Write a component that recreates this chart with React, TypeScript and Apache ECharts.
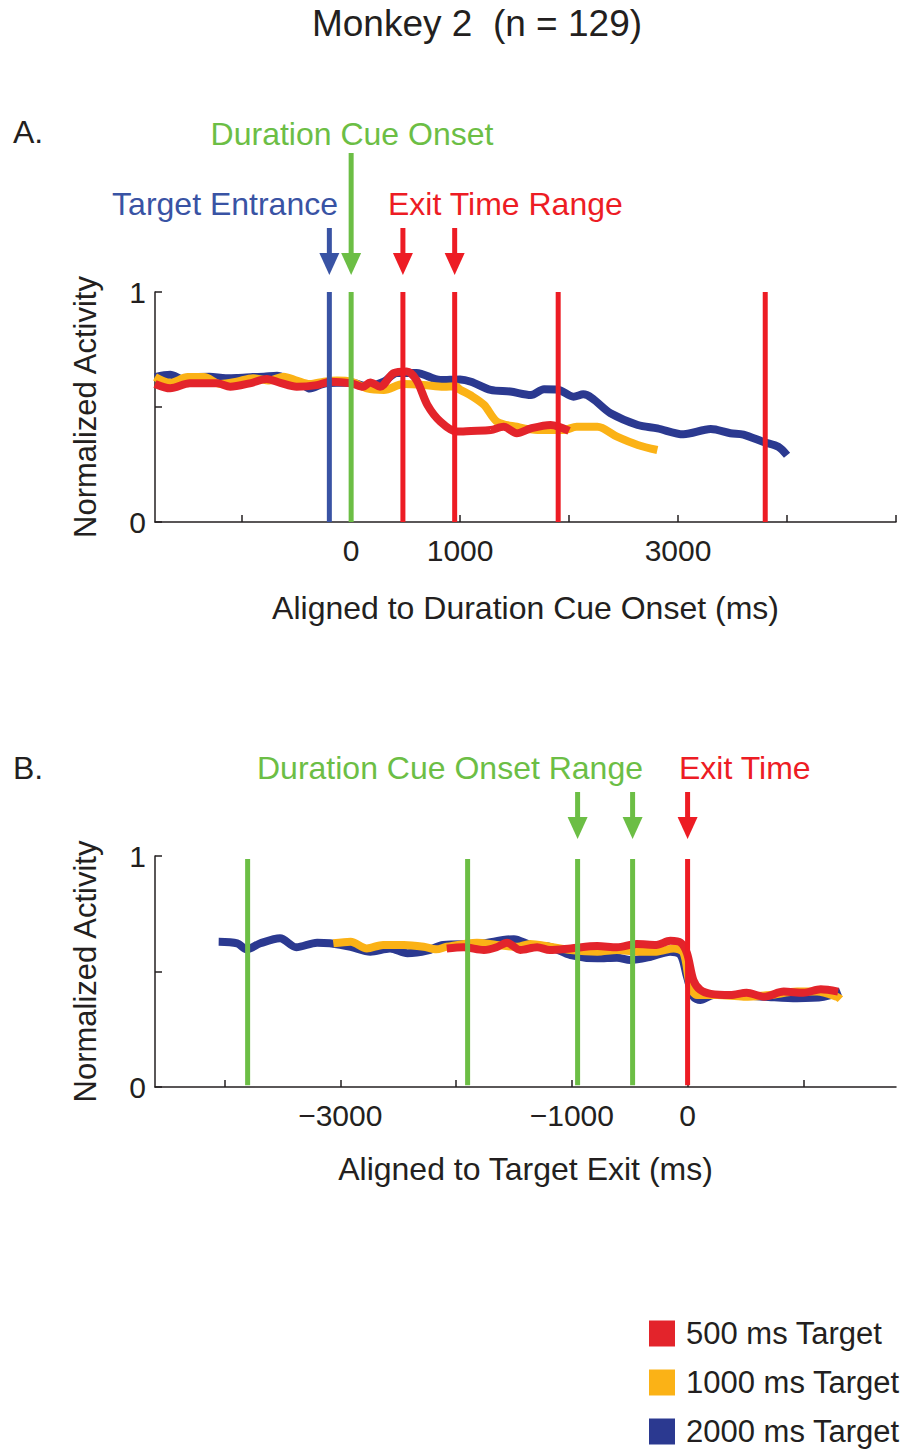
import React, { useEffect, useRef } from "react";
import * as echarts from "echarts";

// ---------- data ----------
// Panel A: aligned to duration cue onset (ms)
const tA_500 = [-1800, -1660, -1480, -1230, -1110, -930, -775, -650, -500, -315, -190, 0, 110, 175, 265, 390, 510, 600, 700, 820, 970, 1100, 1280, 1400, 1520, 1650, 1830, 2000];
const vA_500 = [0.6, 0.581, 0.603, 0.603, 0.588, 0.603, 0.622, 0.605, 0.588, 0.595, 0.61, 0.603, 0.588, 0.607, 0.588, 0.647, 0.654, 0.617, 0.509, 0.436, 0.393, 0.396, 0.4, 0.414, 0.386, 0.407, 0.422, 0.396];

const tA_1000 = [-1800, -1660, -1500, -1350, -1200, -1050, -900, -750, -620, -500, -380, -250, -130, 0, 145, 300, 480, 665, 850, 960, 1000, 1100, 1220, 1340, 1520, 1710, 1950, 2070, 2260, 2440, 2630, 2810];
const vA_1000 = [0.63, 0.605, 0.63, 0.63, 0.6, 0.61, 0.625, 0.615, 0.632, 0.615, 0.6, 0.61, 0.615, 0.61, 0.581, 0.574, 0.6, 0.596, 0.588, 0.59, 0.575, 0.55, 0.509, 0.436, 0.414, 0.4, 0.4, 0.414, 0.414, 0.371, 0.335, 0.313];

const tA_2000 = [-1800, -1660, -1540, -1400, -1300, -1150, -1050, -900, -800, -680, -560, -450, -380, -260, -130, 0, 150, 300, 420, 600, 820, 1000, 1100, 1280, 1460, 1650, 1770, 1900, 2040, 2130, 2380, 2630, 2810, 3050, 3300, 3480, 3600, 3790, 3920, 4000];
const vA_2000 = [0.63, 0.64, 0.62, 0.63, 0.632, 0.625, 0.626, 0.63, 0.632, 0.636, 0.617, 0.6, 0.58, 0.6, 0.605, 0.605, 0.59, 0.61, 0.648, 0.648, 0.617, 0.62, 0.61, 0.574, 0.567, 0.552, 0.577, 0.575, 0.545, 0.555, 0.473, 0.422, 0.407, 0.381, 0.404, 0.386, 0.38, 0.347, 0.327, 0.29];

// Panel B: aligned to target exit (ms)
const tB_500 = [-2080, -1935, -1760, -1650, -1560, -1445, -1300, -1190, -1010, -780, -610, -440, -270, -150, -60, -5, 50, 110, 200, 370, 510, 660, 830, 1000, 1150, 1300];
const vB_500 = [0.6, 0.605, 0.593, 0.605, 0.625, 0.593, 0.605, 0.593, 0.6, 0.61, 0.605, 0.619, 0.615, 0.633, 0.625, 0.579, 0.463, 0.42, 0.403, 0.398, 0.408, 0.391, 0.413, 0.408, 0.423, 0.413];

const tB_1000 = [-3060, -2910, -2770, -2630, -2450, -2280, -2170, -2080, -1820, -1650, -1470, -1360, -1190, -1010, -780, -610, -440, -270, -120, -35, 23, 81, 254, 484, 714, 945, 1118, 1290, 1320];
const vB_1000 = [0.622, 0.629, 0.6, 0.615, 0.615, 0.607, 0.596, 0.607, 0.625, 0.615, 0.607, 0.619, 0.607, 0.593, 0.586, 0.593, 0.586, 0.586, 0.6, 0.58, 0.434, 0.398, 0.398, 0.391, 0.398, 0.413, 0.413, 0.391, 0.38];

const tB_2000 = [-4050, -3890, -3810, -3690, -3520, -3380, -3200, -3090, -2910, -2740, -2570, -2420, -2250, -2110, -1800, -1500, -1360, -1190, -1010, -780, -610, -495, -320, -150, -60, -5, 50, 110, 225, 370, 660, 945, 1175, 1320];
const vB_2000 = [0.629, 0.622, 0.596, 0.622, 0.644, 0.605, 0.625, 0.622, 0.607, 0.586, 0.6, 0.579, 0.59, 0.615, 0.62, 0.64, 0.615, 0.607, 0.571, 0.557, 0.56, 0.55, 0.564, 0.586, 0.571, 0.477, 0.391, 0.377, 0.398, 0.398, 0.391, 0.384, 0.39, 0.413];

// Event markers (ms)
const A_targetEntrance = -200;
const A_cueOnset = 0;
const A_exitRange = [475, 950, 1900, 3800];
const A_exitArrows = [475, 950];
const B_cueOnsetRange = [-3800, -1900, -950, -475];
const B_cueArrows = [-950, -475];
const B_exit = 0;

// Axis ticks / labels
const A_ticks = [-1000, 0, 1000, 2000, 3000, 4000, 5000];
const A_labels = [0, 1000, 3000];
const B_ticks = [-4000, -3000, -2000, -1000, 0, 1000];
const B_labels = [-3000, -1000, 0];
const Y_ticks = [0, 0.5, 1];
const Y_labels = [0, 1];

const seriesNames = ["500 ms Target", "1000 ms Target", "2000 ms Target"];

// ---------- style ----------
const RED = "#E3242B";
const RED_LINE = "#ED1C24";
const YELLOW = "#FBB216";
const NAVY = "#2B3990";
const BLUE = "#3953A4";
const GREEN = "#6CBE45";
const TXT = "#231F20";
const FONT = "'Liberation Sans', Arial, Helvetica, sans-serif";

const zip = (t: number[], v: number[]) => t.map((x, i) => [x, v[i]]);

function curve(name: string, color: string, t: number[], v: number[], idx: number, z: number) {
  return {
    name,
    type: "line",
    xAxisIndex: idx,
    yAxisIndex: idx,
    data: zip(t, v),
    symbol: "none",
    showSymbol: false,
    smooth: 0.3,
    color,
    itemStyle: { color },
    lineStyle: { color, width: 8 },
    z,
    silent: true,
  };
}

function vline(x: number, color: string, idx: number, y0: number, y1: number) {
  return {
    type: "line",
    xAxisIndex: idx,
    yAxisIndex: idx,
    data: [
      [x, y0],
      [x, y1],
    ],
    symbol: "none",
    showSymbol: false,
    lineStyle: { color, width: 5 },
    z: 5,
    silent: true,
  };
}

function arrows(idx: number, items: { x: number; long: number; color: string }[]) {
  return {
    type: "custom",
    xAxisIndex: idx,
    yAxisIndex: idx,
    clip: false,
    silent: true,
    z: 6,
    data: items.map((d) => ({ value: [d.x, d.long], itemStyle: { color: d.color } })),
    renderItem: (params: any, api: any) => {
      const x = api.value(0);
      const long = api.value(1);
      const p = api.coord([x, 1]);
      const color = api.visual("color");
      const tipY = p[1] - 17;
      const topY = long ? tipY - 122 : tipY - 47;
      const headLen = 22;
      const halfW = 10;
      return {
        type: "group",
        children: [
          {
            type: "line",
            shape: { x1: p[0], y1: topY, x2: p[0], y2: tipY - headLen + 2 },
            style: { stroke: color, lineWidth: 5 },
          },
          {
            type: "polygon",
            shape: {
              points: [
                [p[0] - halfW, tipY - headLen],
                [p[0] + halfW, tipY - headLen],
                [p[0], tipY],
              ],
            },
            style: { fill: color },
          },
        ],
      };
    },
  };
}

function xAxis(idx: number, min: number, max: number, ticks: number[], labels: number[], name: string, nameGap: number) {
  return {
    type: "value",
    gridIndex: idx,
    min,
    max,
    axisLine: { show: true, onZero: false, lineStyle: { color: TXT, width: 1.5 } },
    axisTick: { show: true, inside: true, length: 7, customValues: ticks, lineStyle: { color: TXT, width: 1.5 } },
    axisLabel: {
      customValues: labels,
      fontSize: 30,
      color: TXT,
      fontFamily: FONT,
      margin: 13,
      formatter: (v: number) => (v < 0 ? "\u2212" + Math.abs(v) : String(v)),
    },
    splitLine: { show: false },
    name,
    nameLocation: "middle",
    nameGap,
    nameTextStyle: { fontSize: 32, color: TXT, fontFamily: FONT },
  };
}

function yAxis(idx: number) {
  return {
    type: "value",
    gridIndex: idx,
    min: 0,
    max: 1,
    axisLine: { show: true, onZero: false, lineStyle: { color: TXT, width: 1.5 } },
    axisTick: { show: true, inside: true, length: 7, customValues: Y_ticks, lineStyle: { color: TXT, width: 1.5 } },
    axisLabel: { customValues: Y_labels, fontSize: 30, color: TXT, fontFamily: FONT, margin: 9 },
    splitLine: { show: false },
    name: "Normalized Activity",
    nameLocation: "middle",
    nameGap: 54,
    nameTextStyle: { fontSize: 31, color: TXT, fontFamily: FONT },
  };
}

function txt(text: string, x: number, y: number, color: string, size: number, align: string) {
  return {
    type: "text",
    x,
    y,
    silent: true,
    style: { text, fill: color, fontSize: size, fontFamily: FONT, align, verticalAlign: "middle" },
  };
}

export default function App() {
  const ref = useRef<HTMLDivElement>(null);
  useEffect(() => {
    const chart = echarts.init(ref.current!, null, { renderer: "svg" });
    const option: any = {
      animation: false,
      backgroundColor: "#ffffff",
      textStyle: { fontFamily: FONT },
      grid: [
        { left: 155, top: 292, width: 741, height: 230 },
        { left: 155, top: 856, width: 741, height: 231 },
      ],
      xAxis: [
        xAxis(0, -1800, 5000, A_ticks, A_labels, "Aligned to Duration Cue Onset (ms)", 70),
        xAxis(1, -4600, 1800, B_ticks, B_labels, "Aligned to Target Exit (ms)", 66),
      ],
      yAxis: [yAxis(0), yAxis(1)],
      legend: {
        data: seriesNames,
        orient: "vertical",
        left: 649,
        top: 1318,
        padding: 0,
        icon: "rect",
        itemWidth: 26,
        itemHeight: 26,
        itemGap: 18,
        selectedMode: false,
        textStyle: { fontSize: 31, color: TXT, fontFamily: FONT, padding: [0, 0, 0, 6] },
      },
      series: [
        curve(seriesNames[2], NAVY, tA_2000, vA_2000, 0, 2),
        curve(seriesNames[1], YELLOW, tA_1000, vA_1000, 0, 3),
        curve(seriesNames[0], RED, tA_500, vA_500, 0, 4),
        curve(seriesNames[2], NAVY, tB_2000, vB_2000, 1, 2),
        curve(seriesNames[1], YELLOW, tB_1000, vB_1000, 1, 3),
        curve(seriesNames[0], RED, tB_500, vB_500, 1, 4),
        vline(A_targetEntrance, BLUE, 0, 0, 1),
        vline(A_cueOnset, GREEN, 0, 0, 1),
        ...A_exitRange.map((x) => vline(x, RED_LINE, 0, 0, 1)),
        ...B_cueOnsetRange.map((x) => vline(x, GREEN, 1, 0.008, 0.987)),
        vline(B_exit, RED_LINE, 1, 0.008, 0.987),
        arrows(0, [
          { x: A_targetEntrance, long: 0, color: BLUE },
          { x: A_cueOnset, long: 1, color: GREEN },
          ...A_exitArrows.map((x) => ({ x, long: 0, color: RED_LINE })),
        ]),
        arrows(1, [
          ...B_cueArrows.map((x) => ({ x, long: 0, color: GREEN })),
          { x: B_exit, long: 0, color: RED_LINE },
        ]),
      ],
      graphic: [
        txt("Monkey 2  (n = 129)", 477, 23, TXT, 37, "center"),
        txt("A.", 13, 132, TXT, 32, "left"),
        txt("B.", 13, 768, TXT, 32, "left"),
        txt("Duration Cue Onset", 352, 134, GREEN, 32, "center"),
        txt("Target Entrance", 338, 204, BLUE, 32, "right"),
        txt("Exit Time Range", 388, 204, RED_LINE, 32, "left"),
        txt("Duration Cue Onset Range", 450, 768, GREEN, 32, "center"),
        txt("Exit Time", 679, 768, RED_LINE, 32, "left"),
      ],
    };
    chart.setOption(option);
    return () => chart.dispose();
  }, []);
  return (
    <div
      ref={ref}
      style={{ position: "fixed", left: 0, top: 0, width: 912, height: 1452, background: "#ffffff" }}
    />
  );
}
